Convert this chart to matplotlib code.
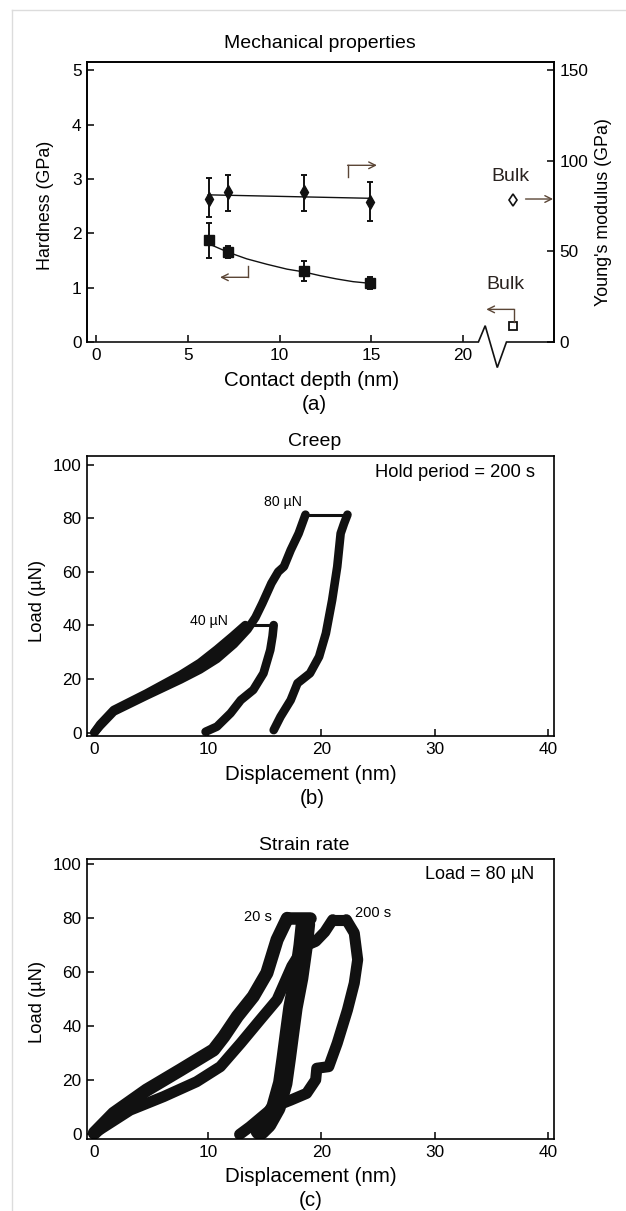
import matplotlib
matplotlib.use('Agg')
import matplotlib.pyplot as plt
from matplotlib.lines import Line2D

plt.rcParams['font.family'] = ['Liberation Sans', 'DejaVu Sans']

W, H = 626, 1211

# ---------------- panel (a) data ----------------
depth = [6.13, 7.2, 11.3, 14.93]
hardness = [1.88, 1.66, 1.31, 1.08]
hard_lo = [1.54, 1.54, 1.13, 0.97]
hard_hi = [2.19, 1.77, 1.49, 1.19]
modulus = [79.0, 82.6, 82.6, 77.5]
mod_lo = [69.2, 72.5, 72.5, 66.6]
mod_hi = [90.4, 91.9, 91.9, 88.2]
hard_fit_x = [6.1, 7.2, 8.2, 9.3, 10.4, 11.3, 12.2, 13.1, 14.0, 14.9]
hard_fit_y = [1.81, 1.65, 1.53, 1.43, 1.34, 1.29, 1.22, 1.16, 1.11, 1.08]
mod_fit_x = [6.1, 14.9]
mod_fit_y = [81.2, 79.3]
bulk_depth = [22.7]
bulk_hardness = [0.30]
bulk_modulus = [78.6]
depth_ticks = [0, 5, 10, 15, 20]
hard_ticks = [0, 1, 2, 3, 4, 5]
mod_ticks = [0, 50, 100, 150]

# ---------------- panel (b) data: creep ----------------
b40_load_x = [0.0, 0.5, 1.7, 4.6, 7.6, 9.3, 10.8, 12.2, 13.3]
b40_load_y = [0.0, 3.0, 8.4, 14.6, 21.5, 26.0, 31.0, 36.0, 40.1]
b40_hold_x = [13.3, 15.8]
b40_hold_y = [40.1, 40.1]
b40_unl_x = [15.8, 15.7, 15.5, 14.9, 14.0, 12.9, 12.0, 10.8, 9.8]
b40_unl_y = [40.1, 36.0, 30.8, 22.1, 15.9, 12.1, 7.2, 2.2, 0.3]

b80_load_x = [0.0, 0.5, 1.7, 4.6, 7.6, 9.3, 10.8, 12.3, 13.5, 14.2, 14.8, 15.6,
              16.2, 16.7, 17.3, 18.0, 18.6]
b80_load_y = [0.0, 2.5, 7.8, 13.8, 19.8, 23.5, 27.5, 33.0, 38.5, 43.0, 48.2, 55.7,
              60.0, 61.9, 68.1, 74.3, 81.3]
b80_hold_x = [18.6, 22.3]
b80_hold_y = [81.3, 81.3]
b80_unl_x = [22.3, 22.0, 21.7, 21.4, 20.95, 20.4, 19.8, 19.0, 17.9, 17.3, 16.4, 15.8]
b80_unl_y = [81.3, 78.0, 74.3, 61.9, 49.4, 37.0, 28.3, 22.1, 18.4, 12.1, 5.9, 0.9]

# ---------------- panel (c) data: strain rate ----------------
c20_load_x = [0.0, 1.7, 4.6, 7.6, 10.5, 11.4, 12.6, 14.0, 15.2, 16.1, 17.0]
c20_load_y = [0.5, 7.8, 16.4, 23.9, 31.3, 36.2, 43.7, 51.1, 59.8, 72.1, 80.0]
c20_hold_x = [17.0, 19.0]
c20_hold_y = [80.0, 80.0]
c20_unl_x = [18.6, 18.4, 18.0, 17.5, 17.2, 16.9, 16.6, 16.0, 15.2, 14.6]
c20_unl_y = [78.0, 70.0, 58.0, 47.0, 37.6, 28.0, 19.0, 10.0, 4.0, 1.5]

c200_load_x = [0.0, 3.15, 6.1, 9.0, 11.1, 12.9, 14.6, 16.1, 17.4, 18.5, 19.5, 20.3, 21.0]
c200_load_y = [0.5, 9.0, 14.0, 19.5, 25.1, 33.8, 42.4, 49.9, 62.3, 69.7, 71.5, 75.0, 79.5]
c200_hold_x = [21.0, 22.2]
c200_hold_y = [79.5, 79.5]
c200_unl_x = [22.2, 22.9, 23.2, 22.9, 22.3, 21.4, 20.65, 19.6, 19.5, 18.7, 17.3, 15.8, 13.7, 12.8]
c200_unl_y = [79.5, 74.6, 64.7, 56.0, 46.1, 33.8, 25.1, 24.5, 20.2, 15.2, 12.7, 10.2, 2.8, 0.0]

disp_ticks = [0, 10, 20, 30, 40]
load_ticks = [0, 20, 40, 60, 80, 100]

BLACK = '#111111'
ARROW = '#5b4636'
TICK_FS = 12.4
XLAB_FS = 14.8
YLAB_FS = 12.9
TITLE_FS = 14


def px(x, y):
    return (x / W, 1 - y / H)


fig = plt.figure(figsize=(W / 100, H / 100), dpi=100)

# light page frame
fig.add_artist(Line2D([12 / W, 12 / W], [0, 1 - 10 / H], transform=fig.transFigure,
                      color='#dcdcdc', lw=1))
fig.add_artist(Line2D([12 / W, 1], [1 - 10 / H, 1 - 10 / H], transform=fig.transFigure,
                      color='#dcdcdc', lw=1))

L, R = 87, 554


def make_axes(top, bottom):
    return fig.add_axes([L / W, 1 - bottom / H, (R - L) / W, (bottom - top) / H])


def style(ax):
    for s in ax.spines.values():
        s.set_linewidth(1.2)
    ax.tick_params(direction='in', length=5, width=1.1, labelsize=TICK_FS, pad=4)


# ================= panel (a) =================
ax = make_axes(62, 342)
style(ax)
ax.set_xlim(-0.5, 24.95)
ax.set_ylim(0, 5.15)
ax.set_xticks(depth_ticks)
ax.set_yticks(hard_ticks)
ax.spines['bottom'].set_visible(False)
ax.tick_params(top=False, right=False)

ax2 = ax.twinx()
style(ax2)
ax2.set_ylim(0, 5.15 * 30)
ax2.set_yticks(mod_ticks)
ax2.spines['bottom'].set_visible(False)

# broken bottom axis with zigzag
brk_x = [-0.5, 20.83, 21.2, 21.86, 22.36, 24.95]
brk_y = [0, 0, 0.30, -0.47, 0, 0]
ax.plot(brk_x, brk_y, color=BLACK, lw=1.2, clip_on=False, zorder=5,
        solid_joinstyle='miter')

# hardness
ax.plot(hard_fit_x, hard_fit_y, color=BLACK, lw=1.0)
ax.errorbar(depth, hardness,
            yerr=[[h - l for h, l in zip(hardness, hard_lo)],
                  [u - h for h, u in zip(hardness, hard_hi)]],
            fmt='s', color=BLACK, ms=6.5, elinewidth=1.4, capsize=2.5, capthick=1.4)
ax.plot(bulk_depth, bulk_hardness, 's', mfc='white', mec=BLACK, ms=5.5, mew=1.3,
        clip_on=False)

# modulus
ax2.plot(mod_fit_x, mod_fit_y, color=BLACK, lw=1.0)
ax2.errorbar(depth, modulus,
             yerr=[[m - l for m, l in zip(modulus, mod_lo)],
                   [u - m for m, u in zip(modulus, mod_hi)]],
             fmt='d', color=BLACK, ms=7, elinewidth=1.4, capsize=2.5, capthick=1.4)
ax2.plot(bulk_depth, bulk_modulus, 'd', mfc='white', mec=BLACK, ms=6, mew=1.2)

# arrows
aprops = dict(arrowstyle='->', color=ARROW, lw=1.0, shrinkA=0, shrinkB=0,
              mutation_scale=12)
ax.plot([13.7, 13.7], [3.03, 3.25], color=ARROW, lw=1.0)
ax.annotate('', xy=(15.3, 3.25), xytext=(13.7, 3.25), arrowprops=aprops)
ax.plot([8.3, 8.3], [1.40, 1.19], color=ARROW, lw=1.0)
ax.annotate('', xy=(6.75, 1.19), xytext=(8.3, 1.19), arrowprops=aprops)
ax.annotate('', xy=(24.9, 2.63), xytext=(23.4, 2.63), arrowprops=aprops)
ax.plot([22.76, 22.76], [0.37, 0.60], color=ARROW, lw=1.0)
ax.annotate('', xy=(21.26, 0.60), xytext=(22.76, 0.60), arrowprops=aprops)

ax.text(22.58, 3.05, 'Bulk', fontsize=14, ha='center', va='center', color='#2a2320')
ax.text(22.3, 1.05, 'Bulk', fontsize=14, ha='center', va='center', color='#2a2320')

fig.text(*px(320, 43), 'Mechanical properties', fontsize=TITLE_FS, ha='center', va='center')
fig.text(*px(312, 380), 'Contact depth (nm)', fontsize=XLAB_FS, ha='center', va='center')
fig.text(*px(314, 405), '(a)', fontsize=XLAB_FS, ha='center', va='center')
fig.text(*px(45, 205), 'Hardness (GPa)', fontsize=YLAB_FS, ha='center', va='center',
         rotation=90)
fig.text(*px(604, 212), "Young's modulus (GPa)", fontsize=YLAB_FS, ha='center',
         va='center', rotation=90)

# ================= panel (b) =================
bx = make_axes(456, 736)
style(bx)
bx.set_xlim(-0.65, 40.5)
bx.set_ylim(-1.3, 103.2)
bx.set_xticks(disp_ticks)
bx.set_yticks(load_ticks)
lw_b = 6.2
for xs, ys in [(b40_load_x, b40_load_y), (b40_unl_x, b40_unl_y),
               (b80_load_x, b80_load_y), (b80_unl_x, b80_unl_y)]:
    bx.plot(xs, ys, color=BLACK, lw=lw_b, solid_capstyle='round', solid_joinstyle='round')
for xs, ys in [(b40_hold_x, b40_hold_y), (b80_hold_x, b80_hold_y)]:
    bx.plot(xs, ys, color=BLACK, lw=2.2, solid_capstyle='butt')
bx.text(38.8, 97, 'Hold period = 200 s', fontsize=13.2, ha='right', va='center')
bx.text(16.6, 86.1, '80 µN', fontsize=10.2, ha='center', va='center')
bx.text(10.1, 41.6, '40 µN', fontsize=10.2, ha='center', va='center')

fig.text(*px(315, 441), 'Creep', fontsize=TITLE_FS, ha='center', va='center')
fig.text(*px(311, 775), 'Displacement (nm)', fontsize=XLAB_FS, ha='center', va='center')
fig.text(*px(312, 798), '(b)', fontsize=XLAB_FS, ha='center', va='center')
fig.text(*px(38, 601), 'Load (µN)', fontsize=13.2, ha='center', va='center', rotation=90)

# ================= panel (c) =================
cx = make_axes(859, 1139)
style(cx)
cx.set_xlim(-0.65, 40.5)
cx.set_ylim(-1.7, 102)
cx.set_xticks(disp_ticks)
cx.set_yticks(load_ticks)
for xs, ys, lw in [(c200_load_x, c200_load_y, 8.0), (c200_unl_x, c200_unl_y, 8.0),
                   (c200_hold_x, c200_hold_y, 8.0),
                   (c20_load_x, c20_load_y, 9.5), (c20_unl_x, c20_unl_y, 14.0),
                   (c20_hold_x, c20_hold_y, 9.0)]:
    cx.plot(xs, ys, color=BLACK, lw=lw, solid_capstyle='round', solid_joinstyle='round')
cx.text(38.8, 96.2, 'Load = 80 µN', fontsize=13, ha='right', va='center')
cx.text(14.45, 80.7, '20 s', fontsize=10.5, ha='center', va='center')
cx.text(24.6, 82.0, '200 s', fontsize=10.5, ha='center', va='center')

fig.text(*px(304, 845), 'Strain rate', fontsize=TITLE_FS, ha='center', va='center')
fig.text(*px(311, 1176), 'Displacement (nm)', fontsize=XLAB_FS, ha='center', va='center')
fig.text(*px(311, 1200), '(c)', fontsize=XLAB_FS, ha='center', va='center')
fig.text(*px(38, 1002), 'Load (µN)', fontsize=13.2, ha='center', va='center', rotation=90)

fig.savefig('out.png', dpi=100)
